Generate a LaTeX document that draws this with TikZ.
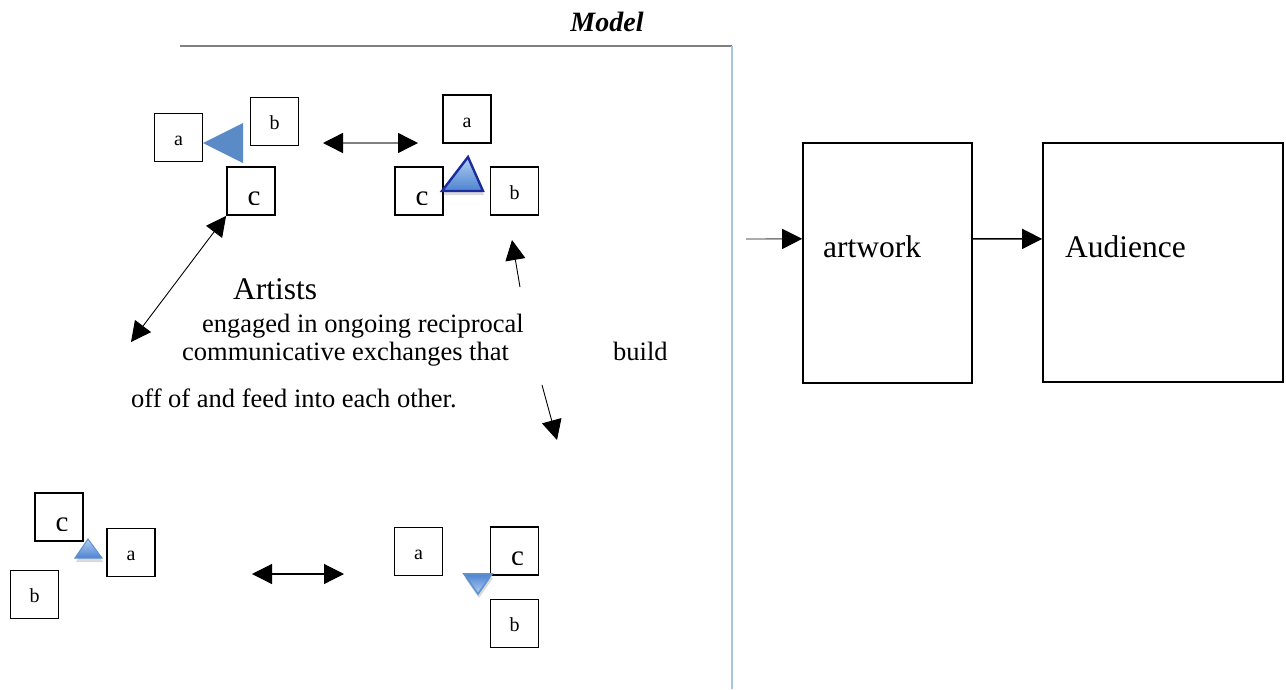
\documentclass[tikz,border=0pt]{standalone}
\usepackage{fontspec}
\setmainfont{Liberation Serif}
\usetikzlibrary{arrows.meta,calc,shadows}

\definecolor{frameblue}{HTML}{A9C3E0}
\definecolor{rulegray}{HTML}{808080}
\definecolor{triblue}{HTML}{5B8BC6}
\definecolor{tridark}{HTML}{1C2C9E}
\definecolor{trilight}{HTML}{B2CFF2}
\definecolor{trimid}{HTML}{4E83D0}
\definecolor{triedge}{HTML}{5F90CF}

\tikzset{
  sq/.style={draw=black, line width=1.8pt, minimum size=48pt, inner sep=0pt,
    font=\fontsize{20}{24}\selectfont, text height=16pt, text depth=0pt},
  bigbox/.style={draw=black, line width=1.6pt, inner sep=0pt},
  cglyph/.style={inner sep=0pt, anchor=base, font=\fontsize{29}{32}\selectfont},
  onehead/.style={-{Triangle[length=20pt,width=20pt,color=black]}},
  twohead/.style={{Triangle[length=20pt,width=20pt,color=black]}-{Triangle[length=20pt,width=20pt,color=black]}},
  fineline/.style={line width=0.9pt, draw=black},
  greyline/.style={line width=1.4pt, draw=rulegray},
  bodytext/.style={inner sep=0pt, anchor=base west, font=\fontsize{26.5}{30}\selectfont},
  largetext/.style={inner sep=0pt, anchor=base west, font=\fontsize{31.5}{36}\selectfont},
  trishadow/.style={drop shadow={opacity=0.3, shadow xshift=1pt, shadow yshift=-4pt}},
}

\begin{document}
\begin{tikzpicture}[x=1pt, y=-1pt]
\useasboundingbox (0,0) rectangle (1286,689);

% heading and frame of the model panel
\node[inner sep=0pt, anchor=base, font=\fontsize{28}{32}\selectfont\bfseries\itshape] (title) at (607,31) {Model};
\coordinate (ruleL) at (180,46);
\coordinate (ruleR) at (732,46);
\coordinate (frameB) at (732,689);
\draw[line width=1.5pt, rulegray] (ruleL) -- (ruleR);
\draw[line width=1.2pt, frameblue] (ruleR) -- (frameB);

% ---- upper-left group
\node[sq] (tla) at (178.5,137.5) {a};
\node[sq] (tlb) at (274.5,121.5) {b};
\node[sq] (tlc) at (251,191) {};
\begin{scope}
  \clip (tlc.north west) rectangle ($(tlc.south east)+(0,-11)$);
  \node[cglyph] (tlcT) at ($(tlc.north)+(3,39.5)$) {c};
\end{scope}
\fill[triblue] (203,143) -- (243,123) -- (243,163) -- cycle;

% ---- upper-right group
\node[sq] (tra) at (467,119) {a};
\node[sq] (trc) at (419,191) {};
\node[sq] (trb) at (514.5,191) {b};
\begin{scope}
  \clip (trc.north west) rectangle ($(trc.south east)+(0,-11)$);
  \node[cglyph] (trcT) at ($(trc.north)+(3,39.5)$) {c};
\end{scope}
\draw[trishadow, draw=tridark, line width=2.4pt, line join=miter, top color=trilight, bottom color=trimid]
  (468,157) -- (483,191) -- (442,191) -- cycle;

% ---- lower-left group
\node[sq] (blc) at (59,517) {};
\node[sq] (bla) at (131,552.5) {a};
\node[sq] (blb) at (34.5,594.5) {b};
\begin{scope}
  \clip (blc.north west) rectangle ($(blc.south east)+(0,-11)$);
  \node[cglyph] (blcT) at ($(blc.north)+(3,39.5)$) {c};
\end{scope}
\draw[trishadow, draw=triedge, line width=1pt, top color=trilight, bottom color=trimid]
  (88,539) -- (102,558) -- (75,558) -- cycle;

% ---- lower-right group
\node[sq] (bra) at (418.5,551.5) {a};
\node[sq] (brc) at (514.5,551) {};
\node[sq] (brb) at (514.5,623.5) {b};
\begin{scope}
  \clip (brc.north west) rectangle ($(brc.south east)+(0,-11)$);
  \node[cglyph] (brcT) at ($(brc.north)+(3,39.5)$) {c};
\end{scope}
\draw[trishadow, draw=triedge, line width=1.6pt, top color=trimid, bottom color=trilight]
  (464,574) -- (492,574) -- (478,594) -- cycle;

% ---- exchanges between the groups
\coordinate (topL) at (323,143);
\coordinate (topR) at (418,143);
\draw[greyline, twohead] (topL) -- (topR);

\coordinate (diagEnd) at (131,342);
\draw[fineline, twohead] (tlc.south west) -- (diagEnd);

\coordinate (upFrom) at (520,287);
\coordinate (upTo) at (512,240);
\draw[fineline, onehead] (upFrom) -- (upTo);

\coordinate (downFrom) at (542,385);
\coordinate (downTo) at (557,440);
\draw[fineline, onehead] (downFrom) -- (downTo);

\coordinate (botL) at (252,574);
\coordinate (botR) at (344,574);
\draw[line width=1.2pt, twohead] (botL) -- (botR);

% ---- caption text
\node[largetext] (artists) at (233,299) {Artists};
\node[bodytext] (line1) at (202,332) {engaged in ongoing reciprocal};
\node[bodytext] (line2) at (182,360) {communicative exchanges that};
\node[bodytext] (line2b) at (613,360) {build};
\node[bodytext] (line3) at (131,407) {off of and feed into each other.};

% ---- flow to the audience
\node[bigbox, minimum width=169pt, minimum height=240pt] (art) at (887.5,263) {};
\node[bigbox, minimum width=240pt, minimum height=239pt] (aud) at (1163,262.5) {};
\node[largetext] (artT) at (823,257) {artwork};
\node[largetext] (audT) at (1065,257) {Audience};

\coordinate (inStart) at (746,239);
\draw[greyline, onehead] (inStart) -- ($(art.north west)!0.4!(art.south west)$);
\draw[line width=1.4pt, onehead] ($(art.north east)!0.4!(art.south east)$) -- ($(aud.north west)!0.402!(aud.south west)$);

\end{tikzpicture}
\end{document}
